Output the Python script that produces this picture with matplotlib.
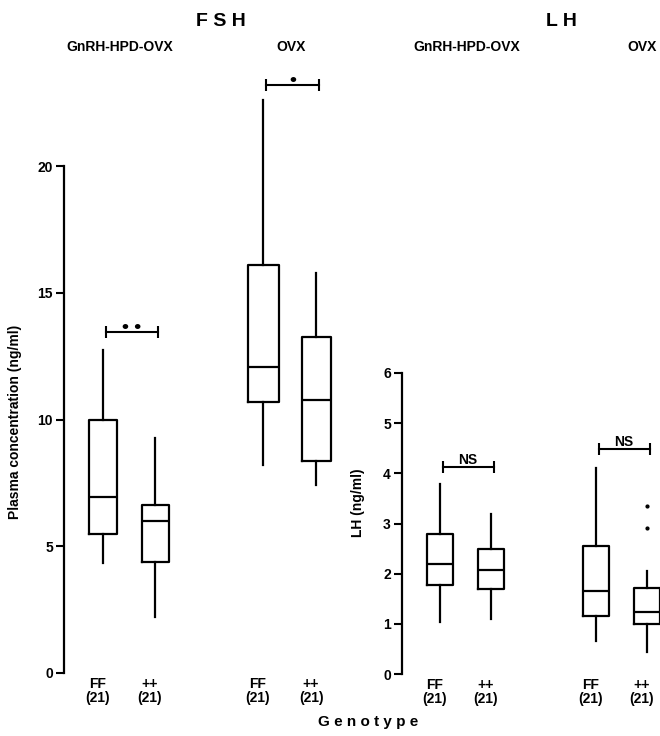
import matplotlib
matplotlib.use("Agg")
import matplotlib.pyplot as plt

# box summaries, order: GnRH-HPD-OVX FF, ++, OVX FF, ++
genotypes = ["FF\n(21)", "++\n(21)", "FF\n(21)", "++\n(21)"]

fsh_q1 = [5.48, 4.38, 10.69, 8.36]
fsh_med = [6.94, 6.00, 12.07, 10.77]
fsh_q3 = [10.00, 6.63, 16.10, 13.25]
fsh_lo = [4.34, 2.21, 8.20, 7.42]
fsh_hi = [12.74, 9.27, 22.60, 15.78]
fsh_fliers = [[], [], [], []]

lh_q1 = [1.77, 1.69, 1.16, 1.00]
lh_med = [2.19, 2.07, 1.65, 1.24]
lh_q3 = [2.79, 2.49, 2.55, 1.71]
lh_lo = [1.04, 1.10, 0.66, 0.44]
lh_hi = [3.78, 3.19, 4.10, 2.05]
lh_fliers = [[], [], [], [3.35, 2.91]]

# significance bars: (left box, right box, height, label)
fsh_sig = [(0, 1, 13.45, "• •"), (2, 3, 23.2, "•")]
lh_sig = [(0, 1, 4.12, "NS"), (2, 3, 4.48, "NS")]

plt.rcParams['font.family'] = ['Liberation Sans', 'DejaVu Sans']
plt.rcParams['font.weight'] = 'bold'

W, H = 660, 736
fig = plt.figure(figsize=(W / 100, H / 100), dpi=100)


def rect(x0, yb, x1, yt):
    return [x0 / W, 1 - yb / H, (x1 - x0) / W, (yb - yt) / H]


def make_stats(q1, med, q3, lo, hi, fl):
    out = []
    for i in range(len(med)):
        out.append(dict(q1=q1[i], med=med[i], q3=q3[i],
                        whislo=lo[i], whishi=hi[i], fliers=fl[i]))
    return out


def style_axis(ax, top):
    for s in ['top', 'right', 'bottom']:
        ax.spines[s].set_visible(False)
    ax.spines['left'].set_linewidth(1.6)
    ax.spines['left'].set_bounds(0, top)
    ax.patch.set_visible(False)
    ax.tick_params(axis='y', direction='out', length=6, width=1.5,
                   labelsize=10, pad=2)
    ax.tick_params(axis='x', length=0, labelsize=10, pad=3)


def draw_sig(ax, pos, sig):
    for i, j, y, lab in sig:
        x1, x2 = pos[i] + 0.05, pos[j] + 0.05
        ax.plot([x1, x2], [y, y], color='k', lw=1.5, marker='|',
                markersize=8, mew=1.5, clip_on=False)
        fs = 14 if lab.startswith("•") else 10
        off = -3 if lab.startswith("•") else 0
        ax.annotate(lab, ((x1 + x2) / 2, y), xytext=(0, off),
                    textcoords='offset points', ha='center', va='bottom',
                    fontsize=fs, annotation_clip=False)


box_kw = dict(showcaps=False, manage_ticks=False,
              boxprops=dict(color='k', lw=1.6),
              whiskerprops=dict(color='k', lw=1.6),
              medianprops=dict(color='k', lw=1.6),
              flierprops=dict(marker='o', markersize=2, mfc='k', mec='k'))

# FSH panel
fsh_pos = [1, 2, 4.08, 5.1]
ax1 = fig.add_axes(rect(64, 673, 360, 673 - 24 * 25.35))
ax1.bxp(make_stats(fsh_q1, fsh_med, fsh_q3, fsh_lo, fsh_hi, fsh_fliers),
        positions=fsh_pos, widths=[0.52, 0.52, 0.6, 0.56], **box_kw)
ax1.set_ylim(0, 24)
ax1.set_xlim(0.25, 5.94)
ax1.set_yticks([0, 5, 10, 15, 20])
ax1.set_xticks([p - 0.1 for p in fsh_pos])
ax1.set_xticklabels(genotypes, linespacing=1.0)
style_axis(ax1, 20)
draw_sig(ax1, fsh_pos, fsh_sig)

# LH panel
lh_pos = [1, 1.98, 4.0, 4.98]
ax2 = fig.add_axes(rect(402, 674, 660, 373))
ax2.bxp(make_stats(lh_q1, lh_med, lh_q3, lh_lo, lh_hi, lh_fliers),
        positions=lh_pos, widths=0.5, **box_kw)
ax2.set_ylim(0, 6)
ax2.set_xlim(0.27, 5.23)
ax2.set_yticks([0, 1, 2, 3, 4, 5, 6])
ax2.set_xticks([p - 0.1 for p in lh_pos])
ax2.set_xticklabels(genotypes, linespacing=1.0)
style_axis(ax2, 6)
draw_sig(ax2, lh_pos, lh_sig)

# headings and axis titles
fig.text(221 / W, 1 - 22 / H, "F S H", ha='center', va='center', fontsize=14)
fig.text(561 / W, 1 - 22 / H, "L H", ha='center', va='center', fontsize=14)
fig.text(120 / W, 1 - 47 / H, "GnRH-HPD-OVX", ha='center', va='center', fontsize=10)
fig.text(291 / W, 1 - 47 / H, "OVX", ha='center', va='center', fontsize=10)
fig.text(467 / W, 1 - 47 / H, "GnRH-HPD-OVX", ha='center', va='center', fontsize=10)
fig.text(642 / W, 1 - 47 / H, "OVX", ha='center', va='center', fontsize=10)
fig.text(15 / W, 1 - 422 / H, "Plasma concentration (ng/ml)", rotation=90,
         ha='center', va='center', fontsize=10)
fig.text(358 / W, 1 - 503 / H, "LH (ng/ml)", rotation=90,
         ha='center', va='center', fontsize=10)
fig.text(368 / W, 1 - 722 / H, "G e n o t y p e", ha='center', va='center',
         fontsize=11)

fig.savefig('out.png', dpi=100)
